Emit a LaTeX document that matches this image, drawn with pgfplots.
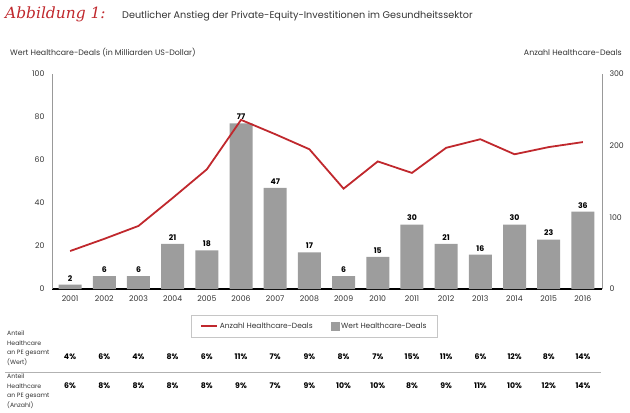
\documentclass[border=0pt]{standalone}
\usepackage{pgfplots}
\pgfplotsset{compat=1.18}
\usepackage{fontspec}
\setmainfont{Poppins}
\newfontfamily\scriptf{DejaVu Serif}
\definecolor{barG}{HTML}{9D9D9D}
\definecolor{lineR}{HTML}{C0282D}
\definecolor{txt}{HTML}{333333}
\begin{document}
\begin{tikzpicture}[x=1bp,y=1bp]
\path[use as bounding box] (0,0) rectangle (630,412);
% title
\node[anchor=base west, inner sep=0, text=lineR] at (5,393) {\fontsize{15.5}{17}\selectfont\scriptf\itshape Abbildung 1:};
\node[anchor=base west, inner sep=0, text=txt] at (122,393) {\fontsize{9.7}{12}\selectfont Deutlicher Anstieg der Private-Equity-Investitionen im Gesundheitssektor};
\node[anchor=base west, inner sep=0, text=txt] at (10,357) {\fontsize{7.9}{9}\selectfont Wert Healthcare-Deals (in Milliarden US-Dollar)};
\node[anchor=base east, inner sep=0, text=txt] at (622,357) {\fontsize{7.9}{9}\selectfont Anzahl Healthcare-Deals};

\begin{axis}[
  at={(52bp,123bp)}, anchor=south west,
  width=550bp, height=215bp, scale only axis,
  xmin=-0.53, xmax=15.56, ymin=0, ymax=100,
  axis x line=bottom, axis y line=left,
  x axis line style={-, black, line width=1.6bp},
  y axis line style={-, gray!80, line width=0.6bp},
  major tick length=0pt,
  xtick={0,...,15},
  xticklabels={2001,2002,2003,2004,2005,2006,2007,2008,2009,2010,2011,2012,2013,2014,2015,2016},
  ytick={0,20,40,60,80,100},
  tick label style={font=\fontsize{7.8}{9}\selectfont, text=txt},
  yticklabel style={xshift=-4bp},
  xticklabel style={yshift=-3bp},
  /pgf/number format/assume math mode=true,
  ybar, bar width=23bp,
  nodes near coords,
  every node near coord/.append style={font=\bfseries\fontsize{7.8}{9}\selectfont, text=black},
  clip=false,
]
\addplot[fill=barG, draw=none] coordinates {
(0,2) (1,6) (2,6) (3,21) (4,18) (5,77) (6,47) (7,17) (8,6) (9,15) (10,30) (11,21) (12,16) (13,30) (14,23) (15,36)};
\end{axis}

\begin{axis}[
  at={(52bp,123bp)}, anchor=south west,
  width=550bp, height=215bp, scale only axis,
  xmin=-0.53, xmax=15.56, ymin=0, ymax=300,
  axis x line=none, axis y line=right,
  y axis line style={-, gray!80, line width=0.6bp},
  major tick length=0pt,
  ytick={0,100,200,300},
  tick label style={font=\fontsize{7.8}{9}\selectfont, text=txt},
  yticklabel style={xshift=4bp},
  /pgf/number format/assume math mode=true,
  legend columns=2,
  legend style={at={(0.477,-0.172)}, anchor=center, draw=gray!45, font=\fontsize{7.5}{9}\selectfont\color{txt},
    /tikz/every even column/.append style={column sep=16bp}, inner xsep=9bp, inner ysep=5.5bp},
  legend image code/.code={},
  clip=false,
]
\addplot[lineR, line width=1.8bp, forget plot] coordinates {
(0,53) (1,70) (2,88) (3,127) (4,167) (5,236) (6,216) (7,195) (8,140) (9,178) (10,162) (11,197) (12,209) (13,188) (14,198) (15,205)};
\addlegendimage{legend image code/.code={\draw[lineR, line width=1.6bp] (0bp,0bp) -- (16bp,0bp);}}
\addlegendentry{Anzahl Healthcare-Deals}
\addlegendimage{legend image code/.code={\fill[barG] (4bp,-4bp) rectangle (12bp,4bp);}}
\addlegendentry{Wert Healthcare-Deals}
\end{axis}

% table
\node[anchor=north west, inner sep=0, align=left, text=txt, font=\fontsize{6.2}{9.5}\selectfont] at (7,81) {Anteil\\Healthcare\\an PE gesamt\\(Wert)};
\node[anchor=north west, inner sep=0, align=left, text=txt, font=\fontsize{6.2}{9.5}\selectfont] at (7,38) {Anteil\\Healthcare\\an PE gesamt\\(Anzahl)};
\draw[gray!60, line width=0.8bp] (5,40) -- (601,40);
\foreach \v [count=\i from 0] in {4,6,4,8,6,11,7,9,8,7,15,11,6,12,8,14}
  \node[font=\bfseries\fontsize{7.8}{9}\selectfont, text=black, inner sep=0] at ({70+34.2*\i},55) {\v\%};
\foreach \v [count=\i from 0] in {6,8,8,8,8,9,7,9,10,10,8,9,11,10,12,14}
  \node[font=\bfseries\fontsize{7.8}{9}\selectfont, text=black, inner sep=0] at ({70+34.2*\i},26) {\v\%};
\end{tikzpicture}
\end{document}
